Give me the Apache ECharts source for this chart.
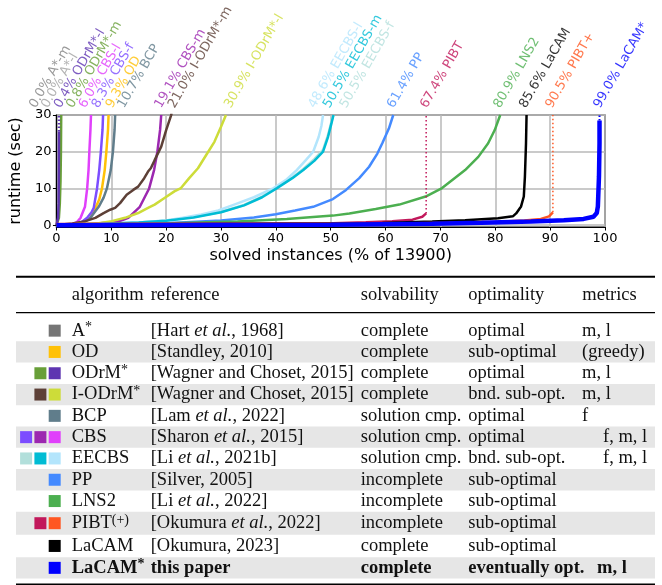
<!DOCTYPE html>
<html><head><meta charset="utf-8">
<script src="https://cdn.jsdelivr.net/npm/echarts@6/dist/echarts.min.js"></script>
<style>html,body{margin:0;padding:0;background:#fff}#c{width:662px;height:585px}</style>
</head><body><div id="c"></div>
<script>
// ---------------- DATA ----------------
const xTicks = [0,10,20,30,40,50,60,70,80,90,100];
const yTicks = [0,10,20,30];

// top labels: final solved % per algorithm variant
const labelNames = ['A*-m','A*-l','ODrM*-l','ODrM*-m','CBS-l','CBS-f','OD','BCP','CBS-m','I-ODrM*-m','I-ODrM*-l','EECBS-l','EECBS-m','EECBS-f','PP','PIBT','LNS2','LaCAM','PIBT+','LaCAM*'];
const labelPct = [0.0,0.0,0.4,0.8,6.0,8.3,9.3,10.7,19.1,21.0,30.9,48.6,50.5,50.5,61.4,67.4,80.9,85.6,90.5,99.0];

// cactus curves [solved %, runtime sec]
const odrmM = [[0,0],[0.2,0.5],[0.45,2],[0.62,6],[0.74,12],[0.82,20],[0.87,30]];
const odrmL = [[0,0],[0.15,0.5],[0.3,2],[0.4,6],[0.44,15],[0.46,25.5]];
const odrmLTail = [[0.46,25.5],[0.46,30]];
const od = [[0,0.05],[3,0.2],[5,0.8],[6.2,2],[7.1,4.7],[7.8,7],[8.3,10],[8.8,15],[9.1,20],[9.4,26],[9.5,30]];
const bcp = [[0,0.05],[3,0.2],[5,0.9],[6.2,2],[7.7,5],[8.6,7.5],[9.2,10],[9.9,15],[10.3,20],[10.6,26],[10.7,30]];
const cbsF = [[0,0.05],[3,0.2],[4.5,0.7],[5.6,2],[6.4,3.5],[6.8,4.7],[7.4,10],[7.8,15],[8.1,20],[8.4,26],[8.5,30]];
const cbsL = [[0,0.05],[2,0.15],[3,0.35],[3.7,0.8],[4.4,2],[4.8,3.5],[5.2,5],[5.6,10],[5.85,15],[6.0,20],[6.2,26],[6.3,30]];
const cbsM = [[0,0.05],[5,0.25],[8,0.5],[11.3,1],[13.1,2],[15.2,5],[16.9,10],[17.8,15],[18.4,20],[18.9,26],[19.1,30]];
const iodrmM = [[0,0.05],[2.9,0.45],[5.3,1.1],[7.1,2.0],[8.6,3.3],[9.8,4.2],[10.7,4.7],[11.6,6.0],[12.8,8.3],[14.0,9.6],[14.9,10.5],[16.0,12.8],[16.7,14.6],[17.2,15.5],[17.9,17.7],[19.1,21.4],[20.0,25.9],[20.9,29.9],[21.0,30.5]];
const iodrmL = [[0,0.05],[4.1,0.3],[7.7,0.5],[10.1,1.1],[12.5,2.0],[14.9,3.3],[16.7,4.7],[17.9,5.6],[19.7,7.4],[21.5,9.2],[22.7,10.1],[24.2,12.8],[25.8,15.5],[27.3,19.1],[28.8,22.7],[30.0,26.8],[30.9,30]];
const eecbsF = [[0,0.05],[8,0.3],[15,0.7],[20,1.25],[25,2.2],[30,3.6],[34.2,5.5],[37.5,7.8],[40.2,10.3],[43,13],[45,15.3],[47,18],[48.6,20.5],[49.5,24.5],[50.1,28],[50.5,30]];
const eecbsL = [[0,0.05],[8,0.3],[15,0.7],[20,1.3],[23,2.0],[26.4,2.9],[29.5,4.0],[32.4,5.6],[36,7.6],[39.6,10.1],[42,12.5],[43.8,15],[45.5,17.8],[46.8,20],[47.8,24],[48.3,27],[48.6,30]];
const eecbsM = [[0,0.05],[8,0.3],[15,0.7],[20,1.2],[25,2.1],[30,3.5],[34.2,5.4],[37.5,7.6],[40.2,10.1],[43,12.8],[45,15],[47,17.5],[48.6,20],[49.5,24],[50.1,27.5],[50.5,30]];
const pp = [[0,0.05],[0.5,0.1],[11.9,0.27],[20.9,0.6],[30,1.3],[36,2.1],[40,3.0],[43.5,4.0],[46.8,5.0],[50.4,7.1],[52.8,9.6],[55.2,12.8],[57,15.9],[58.5,19.5],[59.4,22.3],[60.6,26.3],[61.4,30]];
const lns2 = [[0,0.05],[0.5,0.1],[8.9,0.27],[20.9,0.54],[33,1.0],[42,1.7],[50.4,2.6],[53.4,3.2],[58.2,4.4],[62.5,5.6],[67.3,7.8],[70.3,10.1],[74.5,15],[76.9,18.6],[78.7,22.3],[79.9,25.9],[80.9,30]];
const pibt = [[0,0.3],[30,0.4],[50.4,0.5],[56.4,0.8],[61.2,1.1],[64.9,1.5],[66.7,2.3],[67.4,3.2]];
const pibtTail = [[67.4,3.2],[67.4,30]];
const lacam = [[0,0.1],[30,0.3],[59.4,0.6],[68.5,1.0],[74.5,1.35],[80.5,1.9],[83.2,2.4],[83.8,3.2],[84.7,5.1],[85.2,7.8],[85.4,13.2],[85.6,22.3],[85.7,30]];
const pibtPlus = [[0,0.25],[30,0.35],[62.5,0.45],[71.5,0.63],[80.5,0.9],[85.3,1.26],[88.3,1.7],[89.8,2.4],[90.5,3.5]];
const pibtPlusTail = [[90.5,3.5],[90.5,30]];
const lacamStar = [[0,0.0],[30,0.05],[50,0.1],[68.5,0.36],[77.5,0.63],[86.5,1.0],[92.5,1.35],[96.1,1.7],[97.9,2.3],[98.5,3.3],[98.7,5.1],[98.9,13.2],[99.0,22.3],[99.0,28.5]];
const lacamStarTail = [[99.0,28.5],[99.0,30]];

// table
const tblHeader = ['algorithm','reference','solvability','optimality','metrics'];
const algorithms = ['A*','OD','ODrM*','I-ODrM*','BCP','CBS','EECBS','PP','LNS2','PIBT(+)','LaCAM','LaCAM*'];
const references = ['[Hart et al., 1968]','[Standley, 2010]','[Wagner and Choset, 2015]','[Wagner and Choset, 2015]','[Lam et al., 2022]','[Sharon et al., 2015]','[Li et al., 2021b]','[Silver, 2005]','[Li et al., 2022]','[Okumura et al., 2022]','[Okumura, 2023]','this paper'];
const solvability = ['complete','complete','complete','complete','solution cmp.','solution cmp.','solution cmp.','incomplete','incomplete','incomplete','complete','complete'];
const optimality = ['optimal','sub-optimal','optimal','bnd. sub-opt.','optimal','optimal','bnd. sub-opt.','sub-optimal','sub-optimal','sub-optimal','sub-optimal','eventually opt.'];
const metrics = ['m, l','(greedy)','m, l','m, l','f','f, m, l','f, m, l','','','','','m, l'];

// ---------------- STYLE / LAYOUT ----------------
const C = {
  'A*-m':'#808080','A*-l':'#a0a0a0','ODrM*-l':'#5e35b1','ODrM*-m':'#689f38','CBS-l':'#e040fb','CBS-f':'#7c4dff',
  'OD':'#ffc107','BCP':'#607d8b','CBS-m':'#9c27b0','I-ODrM*-m':'#5d4037','I-ODrM*-l':'#cddc39','EECBS-l':'#b3e5fc',
  'EECBS-m':'#00bcd4','EECBS-f':'#b2dfdb','PP':'#448aff','PIBT':'#c2185b','LNS2':'#4caf50','LaCAM':'#000000',
  'PIBT+':'#ff5722','LaCAM*':'#0000ff'
};
const labelShift = [-20.7,-8.7,2,12,-4,-3.7,4.8,9,0,3,4.8,-8.2,-3.8,12.8,0.4,0.6,-0.2,-0.2,-0.8,0.5];
const swatches = [['#757575'],['#ffc107'],['#689f38','#5e35b1'],['#5d4037','#cddc39'],['#607d8b'],['#7c4dff','#9c27b0','#e040fb'],['#b2dfdb','#00bcd4','#b3e5fc'],['#448aff'],['#4caf50'],['#c2185b','#ff5722'],['#000000'],['#0000ff']];
const shaded = [false,true,false,true,false,true,false,true,false,true,false,true];
const rowH = [21.3,21.3,21.3,21.3,21.3,21.3,21.3,21.3,21.3,23,22.5,21.3];
const metricsX = [582,582,582,582,582,603,603,582,582,582,582,597];
const colX = [71.7,150.7,360.7,468.3,582.3];
const SERIF = 'Liberation Serif';
const FS = 18.5;

function line(data, name, w, dash, z) {
  return {type:'line', data, symbol:'none', showSymbol:false, silent:true, z: z||2,
    lineStyle:{color:C[name], width:w||2.5, type: dash||'solid'}, clip:true, animation:false};
}

const series = [
  line(odrmM,'ODrM*-m'),
  line(odrmL,'ODrM*-l'),
  line(odrmLTail,'ODrM*-l',2.5,[1.5,2]),
  line(od,'OD'), line(bcp,'BCP'), line(cbsF,'CBS-f'), line(cbsL,'CBS-l'), line(cbsM,'CBS-m'),
  line(iodrmM,'I-ODrM*-m'), line(iodrmL,'I-ODrM*-l'),
  line(eecbsF,'EECBS-f'), line(eecbsL,'EECBS-l'), line(eecbsM,'EECBS-m'),
  line(pp,'PP'), line(lns2,'LNS2'),
  line(pibt,'PIBT'), line(pibtTail,'PIBT',1.5,[1.5,2.5]),
  line(lacam,'LaCAM'),
  line(pibtPlus,'PIBT+'), line(pibtPlusTail,'PIBT+',1.5,[1.5,2.5]),
  line(lacamStar,'LaCAM*',4.5), line(lacamStarTail,'LaCAM*',2,[1.5,2]),
  {
    type:'scatter', clip:false, silent:true, symbolSize:2, animation:false, z:5,
    itemStyle:{color:'transparent'},
    data: labelNames.map((n,i)=>({
      value:[labelPct[i],30],
      label:{show:true, formatter: labelPct[i].toFixed(1)+'% '+n, color:C[n],
        position:[labelShift[i]+3.6,-3.7], rotate:60, align:'left', verticalAlign:'bottom',
        fontFamily:'DejaVu Sans', fontSize:13}
    }))
  }
];

// table graphics
const g = [];
const TL = 16, TR = 655;
let y = 320;
const rowTop = [];
rowH.forEach(h=>{ rowTop.push(y); y+=h; });
rowTop.forEach((t,i)=>{
  if (shaded[i]) g.push({type:'rect', shape:{x:TL,y:t,width:TR-TL,height:rowH[i]}, style:{fill:'#e6e6e6'}, z:1});
});
g.push({type:'rect', shape:{x:TL,y:275.7,width:TR-TL,height:2}, style:{fill:'#000'}, z:3});
g.push({type:'rect', shape:{x:TL,y:312,width:TR-TL,height:1.3}, style:{fill:'#000'}, z:3});
g.push({type:'rect', shape:{x:TL,y:583.5,width:TR-TL,height:2}, style:{fill:'#000'}, z:3});

function txt(x, y, text, bold, rich) {
  return {type:'text', x, y, z:4, silent:true, style:{text, fill:'#111', fontFamily:SERIF, fontSize:FS,
    fontWeight: bold?'bold':'normal', align:'left', verticalAlign:'middle', lineHeight:20,
    rich: rich||{}}};
}
const richFor = bold => ({
  s:{fontFamily:SERIF, fontSize:14, fontWeight: bold?'bold':'normal', fill:'#111', verticalAlign:'top', lineHeight:13},
  i:{fontFamily:SERIF, fontSize:FS, fontStyle:'italic', fontWeight: bold?'bold':'normal', fill:'#111', lineHeight:20}
});
tblHeader.forEach((h,j)=> g.push(txt(colX[j], 295, h, false)));
algorithms.forEach((a,i)=>{
  const cy = rowTop[i] + rowH[i]/2;
  const bold = i === algorithms.length-1;
  const sw = swatches[i];
  sw.forEach((c,k)=>{
    const right = 60.7 - (sw.length-1-k)*14.3;
    g.push({type:'rect', shape:{x:right-12, y:cy-6, width:12, height:12}, style:{fill:c}, z:3});
  });
  let an = a;
  if (an.endsWith('(+)')) an = an.slice(0,-3)+'{s|(+)}';
  else if (an.endsWith('*')) an = an.slice(0,-1)+'{s|*}';
  g.push(txt(colX[0], cy, an, bold, richFor(bold)));
  g.push(txt(colX[1], cy, references[i].replace('et al.','{i|et al.}'), bold, richFor(bold)));
  g.push(txt(colX[2], cy, solvability[i], bold));
  g.push(txt(colX[3], cy, optimality[i], bold));
  if (metrics[i]) g.push(txt(metricsX[i], cy, metrics[i], bold));
});

const chart = echarts.init(document.getElementById('c'), null, {renderer:'canvas'});
chart.setOption({
  animation:false,
  backgroundColor:'#fff',
  grid:{left:51, top:115, right:57, bottom:358, show:true, borderColor:'#000', borderWidth:1.2, backgroundColor:'transparent'},
  xAxis:{type:'value', min:0, max:100, interval:10,
    name:'solved instances (% of 13900)', nameLocation:'middle', nameGap:21,
    nameTextStyle:{fontFamily:'DejaVu Sans', fontSize:16, color:'#000'},
    axisLine:{show:true, onZero:false, lineStyle:{color:'#000', width:1.2}},
    axisTick:{show:true, length:3.5, lineStyle:{color:'#000'}},
    axisLabel:{fontFamily:'DejaVu Sans', fontSize:13, color:'#000', margin:5, formatter: v=> xTicks.includes(v)? String(v):''},
    splitLine:{show:true, lineStyle:{color:'#b8b8b8', width:1.5}}},
  yAxis:{type:'value', min:-0.5, max:30,
    name:'runtime (sec)', nameLocation:'middle', nameGap:22, nameRotate:90,
    nameTextStyle:{fontFamily:'DejaVu Sans', fontSize:16, color:'#000'},
    axisLine:{show:true, onZero:false, lineStyle:{color:'#000', width:1.2}},
    axisTick:{show:true, length:3.5, customValues:yTicks, lineStyle:{color:'#000'}},
    axisLabel:{fontFamily:'DejaVu Sans', fontSize:13, color:'#000', margin:5, customValues:yTicks},
    splitLine:{show:true, lineStyle:{color:'#b8b8b8', width:1.5}}},
  series,
  graphic: g
});
</script></body></html>
